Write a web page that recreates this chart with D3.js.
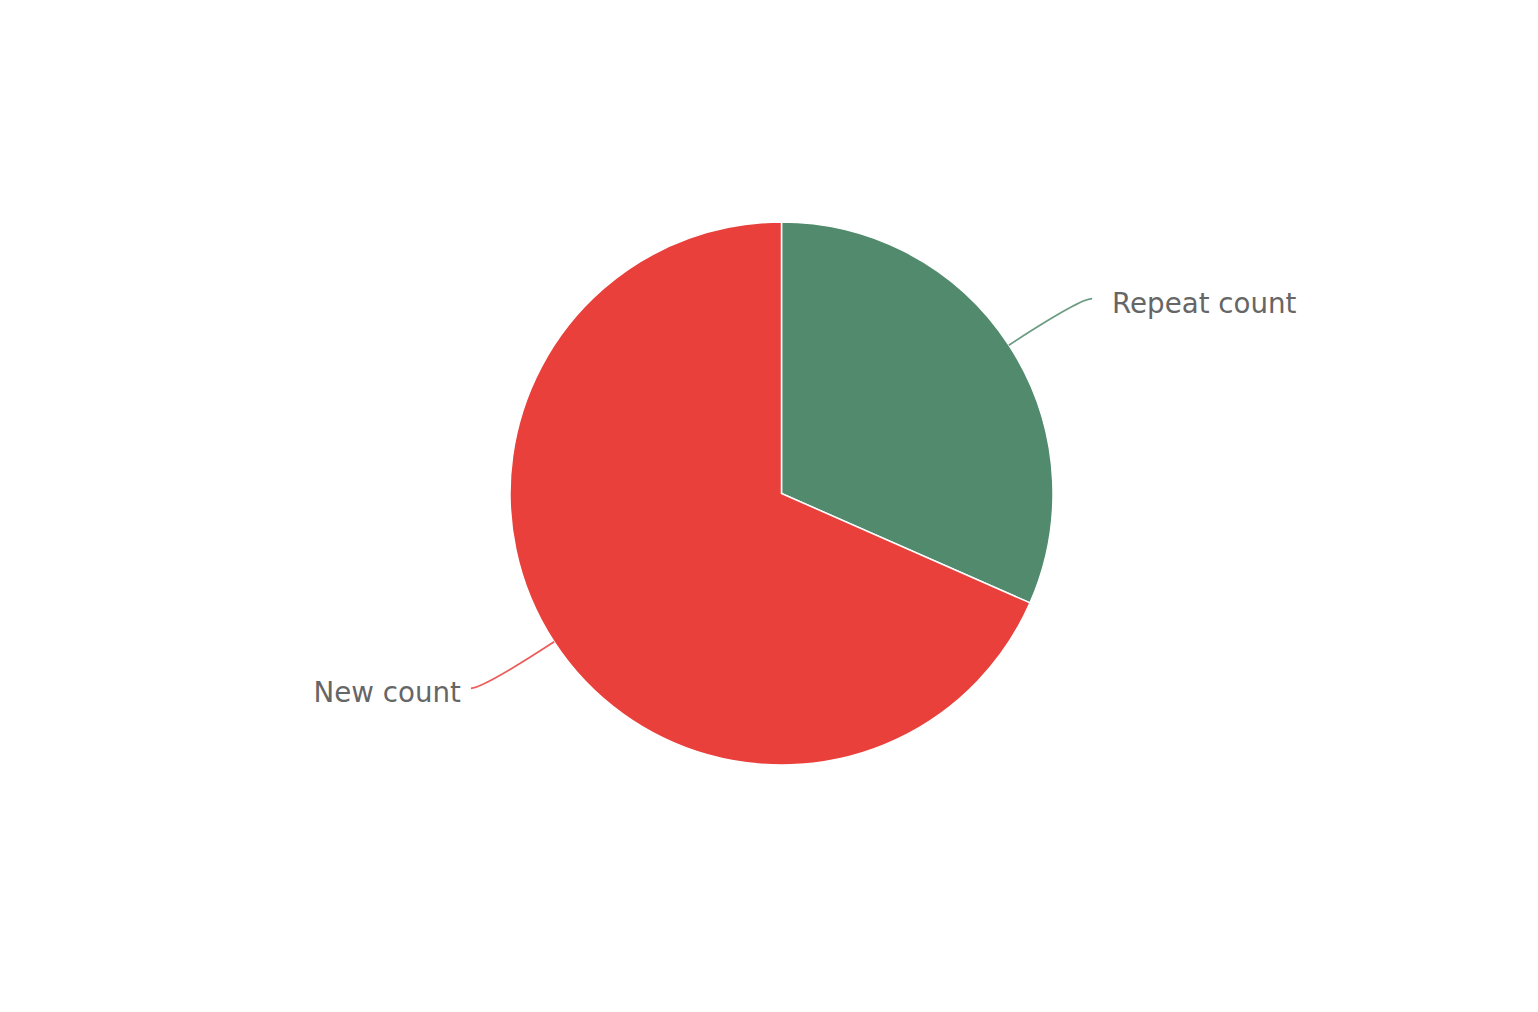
<!DOCTYPE html>
<html>
<head>
<meta charset="utf-8">
<script src="https://cdnjs.cloudflare.com/ajax/libs/d3/7.8.5/d3.min.js"></script>
<style>
  html, body { margin: 0; padding: 0; background: #fff; }
</style>
</head>
<body>
<div id="chart"></div>
<script>
// data
const categories = ["Repeat count", "New count"];
const counts = [316, 684];
const colors = ["#518a6c", "#e9403b"];

const fullWidth = 1538, fullHeight = 1012;
const cx = 781.5, cy = 493.5, radius = 271.5;

let svg = d3.select("#chart")
    .append("svg")
    .attr("width", fullWidth)
    .attr("height", fullHeight);

let g = svg.append("g")
    .attr("transform", `translate(${cx},${cy})`);

let pieData = d3.pie()
    .sort(null)
    .value(d => d.value)(categories.map((c, i) => ({ name: c, value: counts[i], color: colors[i] })));

let arc = d3.arc().innerRadius(0).outerRadius(radius);

// slices
g.selectAll(".slice")
    .data(pieData)
    .enter()
    .append("path")
    .attr("class", "slice")
    .attr("d", arc)
    .attr("fill", d => d.data.color)
    .attr("stroke", "#fff")
    .attr("stroke-width", 1.5);

// label lines + labels
const len1 = 85, len2 = 12;
pieData.forEach(d => {
    let mid = (d.startAngle + d.endAngle) / 2;
    let sx = Math.sin(mid), sy = -Math.cos(mid);
    let p0 = [sx * radius, sy * radius];
    let p1 = [sx * (radius + len1), sy * (radius + len1)];
    let dir = sx >= 0 ? 1 : -1;
    let p2 = [p1[0] + dir * len2, p1[1]];

    g.append("path")
        .attr("d", `M${p0[0]},${p0[1]}Q${p1[0]},${p1[1]} ${p2[0]},${p2[1]}`)
        .attr("fill", "none")
        .attr("stroke", d.data.color)
        .attr("stroke-opacity", 0.85)
        .attr("stroke-width", 1.8);

    g.append("text")
        .attr("x", p2[0] + dir * (dir > 0 ? 20 : 10))
        .attr("y", p2[1] + 5)
        .attr("dy", "0.32em")
        .attr("text-anchor", dir > 0 ? "start" : "end")
        .style("font-family", "DejaVu Sans, sans-serif")
        .style("font-size", "27.7px")
        .style("fill", "#666")
        .text(d.data.name);
});
</script>
</body>
</html>
